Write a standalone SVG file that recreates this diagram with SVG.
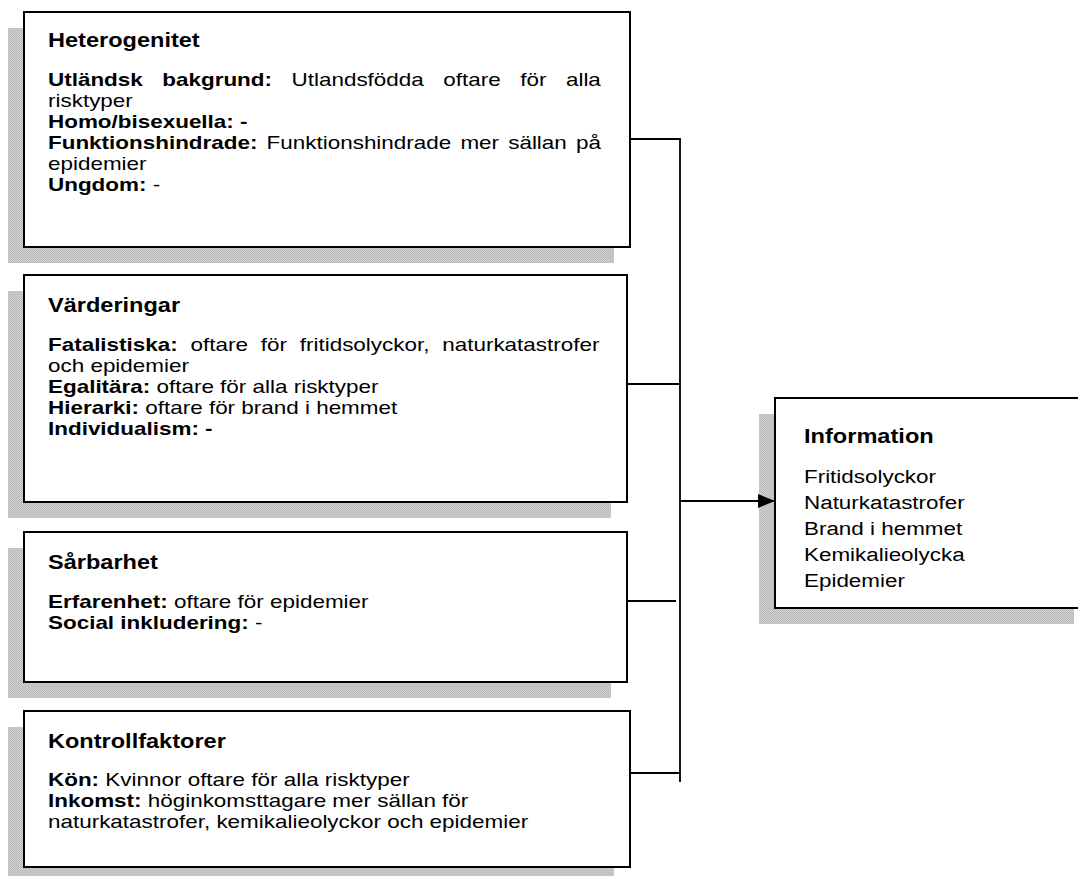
<svg xmlns="http://www.w3.org/2000/svg" width="1078" height="876" viewBox="0 0 1078 876">
<style>
.box{fill:#fff;stroke:#000;stroke-width:2}
.sh{fill:url(#dots)}
.t{font-family:"Liberation Sans",Arial,sans-serif;font-size:18.4px;fill:#000}
.h{font-family:"Liberation Sans",Arial,sans-serif;font-size:19.3px;font-weight:bold;fill:#000}
.it{font-family:"Liberation Sans",Arial,sans-serif;font-size:19px;fill:#000}
.ih{font-family:"Liberation Sans",Arial,sans-serif;font-size:20px;font-weight:bold;fill:#000}
.b{font-weight:bold}
.c{stroke:#000;stroke-width:1.8;fill:none}
</style>
<defs>
<pattern id="dots" width="2" height="2" patternUnits="userSpaceOnUse">
<rect width="2" height="2" fill="#cfcfcf"/>
<rect width="1" height="1" fill="#b8b8b8"/>
<rect x="1" y="1" width="1" height="1" fill="#bdbdbd"/>
</pattern>
<marker id="arr" markerWidth="18" markerHeight="14" refX="17" refY="7" orient="auto" markerUnits="userSpaceOnUse">
<path d="M0,0 L17,7 L0,14 Z" fill="#000"/>
</marker>
</defs>
<rect width="1078" height="876" fill="#fff"/>

<g id="heterogenitet">
<rect class="sh" x="8" y="28" width="606" height="235"/>
<rect class="box" x="24" y="12" width="606" height="235"/>
<g transform="translate(48,0) scale(1.22,1)">
<text class="h" x="0" y="47">Heterogenitet</text>
<text class="t" x="0" y="86" word-spacing="10.9"><tspan class="b">Utländsk bakgrund:</tspan> Utlandsfödda oftare för alla</text>
<text class="t" x="0" y="107">risktyper</text>
<text class="t" x="0" y="128"><tspan class="b">Homo/bisexuella: -</tspan></text>
<text class="t" x="0" y="149" word-spacing="2.4"><tspan class="b">Funktionshindrade:</tspan> Funktionshindrade mer sällan på</text>
<text class="t" x="0" y="170">epidemier</text>
<text class="t" x="0" y="191"><tspan class="b">Ungdom:</tspan> -</text>
</g>
</g>

<g id="varderingar">
<rect class="sh" x="8" y="291" width="603" height="227"/>
<rect class="box" x="24" y="275" width="603" height="227"/>
<g transform="translate(48,0) scale(1.22,1)">
<text class="h" x="0" y="312">Värderingar</text>
<text class="t" x="0" y="351" word-spacing="5.4"><tspan class="b">Fatalistiska:</tspan> oftare för fritidsolyckor, naturkatastrofer</text>
<text class="t" x="0" y="372">och epidemier</text>
<text class="t" x="0" y="393"><tspan class="b">Egalitära:</tspan> oftare för alla risktyper</text>
<text class="t" x="0" y="414"><tspan class="b">Hierarki:</tspan> oftare för brand i hemmet</text>
<text class="t" x="0" y="435"><tspan class="b">Individualism: -</tspan></text>
</g>
</g>

<g id="sarbarhet">
<rect class="sh" x="8" y="548" width="603" height="150"/>
<rect class="box" x="24" y="532" width="603" height="150"/>
<g transform="translate(48,0) scale(1.22,1)">
<text class="h" x="0" y="569">Sårbarhet</text>
<text class="t" x="0" y="608"><tspan class="b">Erfarenhet:</tspan> oftare för epidemier</text>
<text class="t" x="0" y="629"><tspan class="b">Social inkludering:</tspan> -</text>
</g>
</g>

<g id="kontrollfaktorer">
<rect class="sh" x="8" y="727" width="606" height="156"/>
<rect class="box" x="24" y="711" width="606" height="156"/>
<g transform="translate(48,0) scale(1.22,1)">
<text class="h" x="0" y="748">Kontrollfaktorer</text>
<text class="t" x="0" y="786"><tspan class="b">Kön:</tspan> Kvinnor oftare för alla risktyper</text>
<text class="t" x="0" y="807"><tspan class="b">Inkomst:</tspan> höginkomsttagare mer sällan för</text>
<text class="t" x="0" y="828">naturkatastrofer, kemikalieolyckor och epidemier</text>
</g>
</g>

<g id="information">
<rect class="sh" x="759" y="414" width="315" height="210"/>
<rect class="box" x="775" y="398" width="330" height="210"/>
<g transform="translate(804,0) scale(1.18,1)">
<text class="ih" x="0" y="443">Information</text>
<text class="it" x="0" y="483">Fritidsolyckor</text>
<text class="it" x="0" y="509">Naturkatastrofer</text>
<text class="it" x="0" y="535">Brand i hemmet</text>
<text class="it" x="0" y="561">Kemikalieolycka</text>
<text class="it" x="0" y="587">Epidemier</text>
</g>
</g>

<g id="connectors">
<path class="c" d="M630,139 H680 V782"/>
<path class="c" d="M627,384 H680"/>
<path class="c" d="M627,601 H676"/>
<path class="c" d="M630,773 H680"/>
<path class="c" d="M680,501 H775" marker-end="url(#arr)"/>
</g>
</svg>
